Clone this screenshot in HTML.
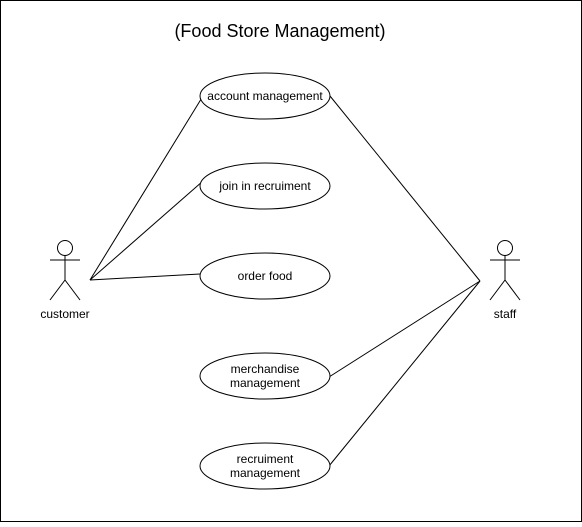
<!DOCTYPE html>
<html><head><style>body{margin:0;background:#fff}</style></head><body>
<svg width="582" height="522" xmlns="http://www.w3.org/2000/svg" font-family="Liberation Sans, Arial, sans-serif">
<rect x="0.5" y="0.5" width="581" height="521" fill="#fff" stroke="#000"/>
<text x="280" y="37" font-size="18" text-anchor="middle">(Food Store Management)</text>
<g stroke="#000" stroke-width="1" fill="none">
<line x1="90" y1="280" x2="203" y2="96"/>
<line x1="90" y1="280" x2="203" y2="181"/>
<line x1="90" y1="280" x2="200" y2="274"/>
<line x1="480" y1="281" x2="330" y2="96"/>
<line x1="480" y1="281" x2="329" y2="377"/>
<line x1="480" y1="281" x2="329" y2="466"/>
</g>
<g stroke="#000" fill="#fff">
<ellipse cx="265" cy="96" rx="65" ry="23"/>
<ellipse cx="265" cy="186" rx="65" ry="23"/>
<ellipse cx="265" cy="276" rx="65" ry="23"/>
<ellipse cx="265" cy="376" rx="65" ry="23"/>
<ellipse cx="265" cy="466" rx="65" ry="23"/>
</g>
<g font-size="12" text-anchor="middle">
<text x="265" y="100">account management</text>
<text x="265" y="190">join in recruiment</text>
<text x="265" y="280">order food</text>
<text x="265" y="373">merchandise</text>
<text x="265" y="387">management</text>
<text x="265" y="463">recruiment</text>
<text x="265" y="477">management</text>
<text x="65" y="318">customer</text>
<text x="505" y="318">staff</text>
</g>
<g stroke="#000" fill="none">
<circle cx="65" cy="248" r="7.5"/>
<line x1="65" y1="255.5" x2="65" y2="280"/>
<line x1="50" y1="260" x2="80" y2="260"/>
<line x1="65" y1="280" x2="50" y2="300"/>
<line x1="65" y1="280" x2="80" y2="300"/>
<circle cx="505" cy="248" r="7.5"/>
<line x1="505" y1="255.5" x2="505" y2="280"/>
<line x1="490" y1="260" x2="520" y2="260"/>
<line x1="505" y1="280" x2="490" y2="300"/>
<line x1="505" y1="280" x2="520" y2="300"/>
</g>
</svg>
</body></html>
